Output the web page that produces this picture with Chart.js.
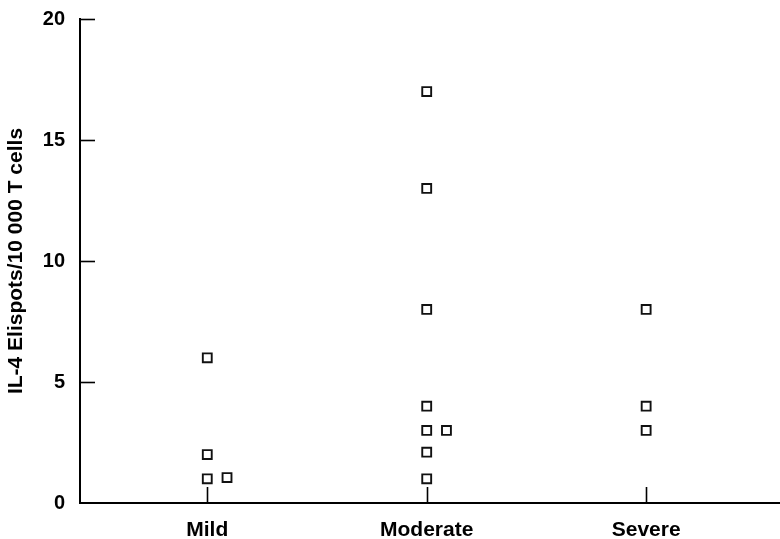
<!DOCTYPE html>
<html>
<head>
<meta charset="utf-8">
<script src="https://cdn.jsdelivr.net/npm/chart.js@4/dist/chart.umd.min.js"></script>
<style>
  html, body { margin: 0; padding: 0; background: #fff; }
  #wrap { width: 780px; height: 539px; }
</style>
</head>
<body>
<div id="wrap"><canvas id="chart"></canvas></div>
<script>
// groups along the x axis
const categories = ['Mild', 'Moderate', 'Severe'];
const categoryPos = [1, 2, 3];
const yTicks = [0, 5, 10, 15, 20];

// IL-4 elispots per group (x = group position, side-by-side points nudged right)
const mildX = [1, 1, 1, 1.09];
const mildY = [6, 2, 1, 1.05];
const moderateX = [2, 2, 2, 2, 2, 2.09, 2, 2];
const moderateY = [17, 13, 8, 4, 3, 3, 2.1, 1];
const severeX = [3, 3, 3];
const severeY = [8, 4, 3];

const toPoints = (xs, ys) => xs.map((x, i) => ({ x: x, y: ys[i] }));

const family = 'Liberation Sans, Arial, Helvetica, sans-serif';

// inward tick marks, like the printed figure
const innerTicks = {
  id: 'innerTicks',
  afterDraw(chart) {
    const { ctx, scales: { x, y } } = chart;
    ctx.save();
    ctx.strokeStyle = '#000';
    ctx.lineWidth = 1.6;
    yTicks.forEach(v => {
      if (v === 0) return;
      const py = Math.round(y.getPixelForValue(v)) + 0.5;
      ctx.beginPath();
      ctx.moveTo(x.left, py);
      ctx.lineTo(x.left + 15, py);
      ctx.stroke();
    });
    categoryPos.forEach(v => {
      const px = Math.round(x.getPixelForValue(v)) + 0.5;
      ctx.beginPath();
      ctx.moveTo(px, y.bottom);
      ctx.lineTo(px, y.bottom - 16);
      ctx.stroke();
    });
    ctx.restore();
  }
};

new Chart(document.getElementById('chart'), {
  type: 'scatter',
  data: {
    datasets: [
      { data: toPoints(mildX, mildY) },
      { data: toPoints(moderateX, moderateY) },
      { data: toPoints(severeX, severeY) }
    ].map(d => Object.assign(d, {
      pointStyle: 'rect',
      pointRadius: 6.3,
      pointBorderWidth: 1.9,
      borderColor: '#111',
      backgroundColor: '#fff',
      pointBackgroundColor: '#fff',
      pointBorderColor: '#111'
    }))
  },
  options: {
    responsive: true,
    maintainAspectRatio: false,
    animation: false,
    layout: { autoPadding: false, padding: { top: 15, right: 0, left: 0, bottom: 0 } },
    plugins: { legend: { display: false }, tooltip: { enabled: false } },
    scales: {
      x: {
        type: 'linear',
        min: 0.42,
        max: 3.61,
        afterBuildTicks: s => { s.ticks = categoryPos.map(v => ({ value: v })); },
        afterFit: s => { s.height = 36; },
        grid: { display: false },
        border: { display: true, color: '#000', width: 2 },
        ticks: {
          color: '#000',
          font: { family: family, weight: 'bold', size: 21 },
          padding: 7,
          maxRotation: 0,
          callback: v => categories[categoryPos.indexOf(v)]
        }
      },
      y: {
        min: 0,
        max: 20,
        afterBuildTicks: s => { s.ticks = yTicks.map(v => ({ value: v })); },
        afterFit: s => { s.width = 80; },
        grid: { display: false },
        border: { display: true, color: '#000', width: 2 },
        ticks: { color: '#000', font: { family: family, weight: 'bold', size: 20 }, padding: 7 },
        title: {
          display: true,
          text: 'IL-4 Elispots/10 000 T cells',
          color: '#000',
          font: { family: family, weight: 'bold', size: 21 },
          padding: { top: 4, bottom: 0 }
        }
      }
    }
  },
  plugins: [innerTicks]
});
</script>
</body>
</html>
